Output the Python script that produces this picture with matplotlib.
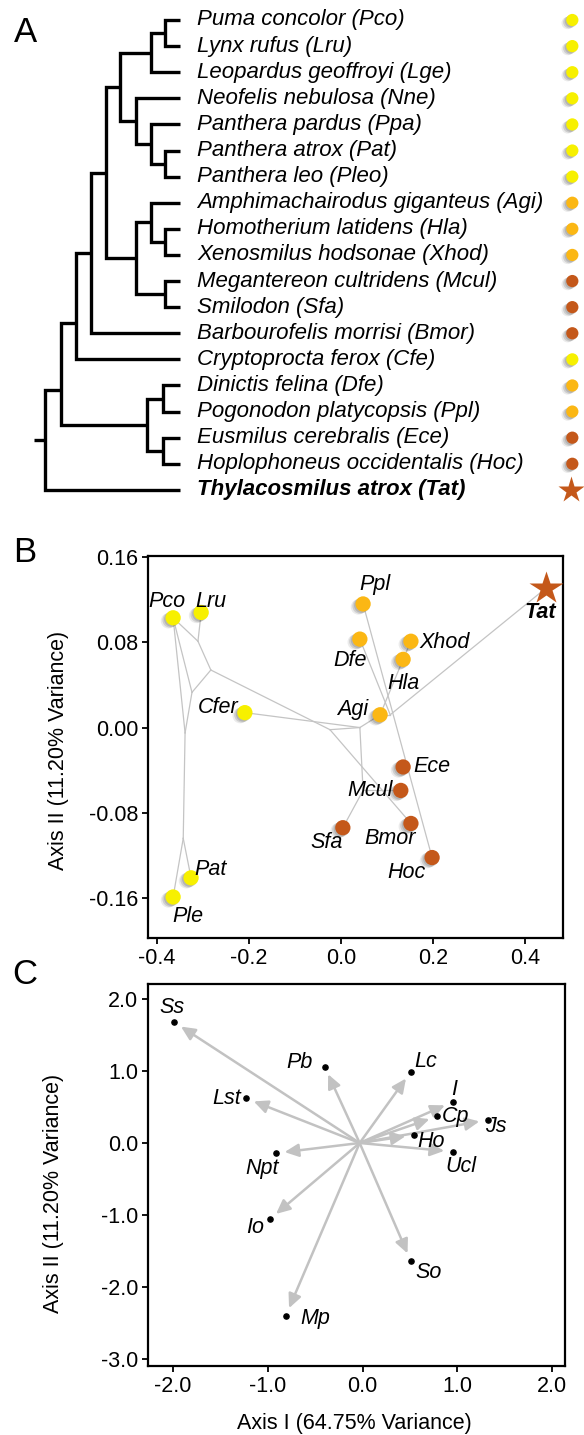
import matplotlib
matplotlib.use("Agg")
import matplotlib.pyplot as plt
import matplotlib.patheffects as pe
from matplotlib.transforms import blended_transform_factory

plt.rcParams['font.family'] = ['Liberation Sans', 'DejaVu Sans']
plt.rcParams['axes.unicode_minus'] = False

# ---------------- data ----------------
# panel A: tips in plotting order
tip_codes = ["Pco", "Lru", "Lge", "Nne", "Ppa", "Pat", "Pleo", "Agi", "Hla", "Xhod",
             "Mcul", "Sfa", "Bmor", "Cfe", "Dfe", "Ppl", "Ece", "Hoc", "Tat"]
tip_names = ["Puma concolor (Pco)", "Lynx rufus (Lru)", "Leopardus geoffroyi (Lge)",
             "Neofelis nebulosa (Nne)", "Panthera pardus (Ppa)", "Panthera atrox (Pat)",
             "Panthera leo (Pleo)", "Amphimachairodus giganteus (Agi)",
             "Homotherium latidens (Hla)", "Xenosmilus hodsonae (Xhod)",
             "Megantereon cultridens (Mcul)", "Smilodon (Sfa)",
             "Barbourofelis morrisi (Bmor)", "Cryptoprocta ferox (Cfe)",
             "Dinictis felina (Dfe)", "Pogonodon platycopsis (Ppl)",
             "Eusmilus cerebralis (Ece)", "Hoplophoneus occidentalis (Hoc)",
             "Thylacosmilus atrox (Tat)"]
tip_group = ["y", "y", "y", "y", "y", "y", "y", "o", "o", "o",
             "b", "b", "b", "y", "o", "o", "b", "b", "star"]

# tree: (node depth, [children], position of stem between children)
tree = (0.0, [
    (0.119, [
        (0.23, [
            (0.34, [
                (0.452, [
                    (0.556, [
                        (0.783, [(0.889, ["Pco", "Lru"], 0.5), "Lge"], 0.5),
                        (0.674, ["Nne", (0.783, ["Ppa", (0.889, ["Pat", "Pleo"], 0.5)], 0.5)], 0.5),
                    ], 0.5),
                    (0.674, [
                        (0.783, ["Agi", (0.889, ["Hla", "Xhod"], 0.5)], 0.5),
                        (0.889, ["Mcul", "Sfa"], 0.5),
                    ], 0.5),
                ], 0.5),
                "Bmor",
            ], 0.5),
            "Cfe",
        ], 0.66),
        (0.756, [(0.874, ["Dfe", "Ppl"], 0.5), (0.874, ["Ece", "Hoc"], 0.5)], 0.5),
    ], 0.66),
    "Tat",
], 0.5)
root_stem = -0.081

# panel B: PCA scores
b_codes = ["Pco", "Lru", "Cfer", "Pat", "Ple", "Ppl", "Dfe", "Xhod", "Hla", "Agi",
           "Ece", "Mcul", "Bmor", "Sfa", "Hoc", "Tat"]
b_x = [-0.365, -0.304, -0.209, -0.326, -0.365, 0.048, 0.041, 0.152, 0.135, 0.085,
       0.135, 0.130, 0.152, 0.004, 0.198, 0.446]
b_y = [0.103, 0.108, 0.014, -0.141, -0.159, 0.116, 0.083, 0.081, 0.064, 0.012,
       -0.037, -0.059, -0.090, -0.094, -0.122, 0.131]
b_group = ["y", "y", "y", "y", "y", "o", "o", "o", "o", "o",
           "b", "b", "b", "b", "b", "star"]
# network internal nodes
net_nodes = {"J1": (-0.311, 0.081), "A": (-0.283, 0.054), "B": (-0.324, 0.033),
             "C": (-0.339, -0.005), "D": (-0.343, -0.104), "M1": (-0.024, -0.002),
             "M2": (0.041, 0.0), "K2": (0.048, -0.059), "T1": (0.107, 0.012)}
net_edges = [("Pco", "J1"), ("Lru", "J1"), ("J1", "A"), ("A", "B"), ("Pco", "B"),
             ("Pco", "C"), ("B", "C"), ("C", "D"), ("D", "Pat"), ("D", "Ple"),
             ("A", "M1"), ("Cfer", "M2"), ("M1", "M2"), ("M2", "Agi"), ("M1", "Bmor"),
             ("M2", "K2"), ("K2", "Sfa"), ("K2", "Mcul"), ("Ppl", "Hoc"), ("Dfe", "T1"),
             ("Hla", "Agi"), ("Xhod", "Hla"), ("Agi", "T1"), ("T1", "Tat")]

# panel C: loadings
c_codes = ["Ss", "Lst", "Npt", "Io", "Mp", "Pb", "Lc", "I", "Cp", "Js", "Ho", "Ucl", "So"]
c_x = [-1.99, -1.23, -0.91, -0.98, -0.81, -0.40, 0.51, 0.95, 0.79, 1.32, 0.54, 0.95, 0.51]
c_y = [1.68, 0.62, -0.14, -1.06, -2.40, 1.06, 0.99, 0.57, 0.37, 0.32, 0.11, -0.12, -1.64]
c_origin = (-0.03, 0.0)

colors = {"y": "#f7f000", "o": "#fbb714", "b": "#c4581a", "star": "#c4581a"}

# ---------------- figure ----------------
W, H = 584, 1435
fig = plt.figure(figsize=(W / 100, H / 100), dpi=100)


def px_axes(left, top, right, bottom):
    return fig.add_axes([left / W, 1 - bottom / H, (right - left) / W, (bottom - top) / H])


shadow = [pe.SimplePatchShadow(offset=(-1, -1), shadow_rgbFace="k", alpha=0.12),
          pe.SimplePatchShadow(offset=(-2.2, -1.6), shadow_rgbFace="k", alpha=0.12),
          pe.SimplePatchShadow(offset=(-3.4, -2.2), shadow_rgbFace="k", alpha=0.08),
          pe.Normal()]

# ---------------- panel A ----------------
axA = px_axes(0, 0, W, 540)
axA.set_xlim(-45 / 135, (W - 45) / 135)
axA.set_ylim(19.92, -0.766)
axA.axis("off")
tip_index = {c: i for i, c in enumerate(tip_codes)}
tree_kw = dict(color="black", lw=2.4, solid_joinstyle="miter", solid_capstyle="butt")


def draw(node):
    if isinstance(node, str):
        return tip_index[node], 1.0
    depth, kids, frac = node
    (y1, d1), (y2, d2) = draw(kids[0]), draw(kids[1])
    axA.plot([d1, depth, depth, d2], [y1, y1, y2, y2], **tree_kw)
    return y1 + frac * (y2 - y1), depth


ry, rd = draw(tree)
axA.plot([root_stem, rd], [ry, ry], **tree_kw)

dot_tr = blended_transform_factory(axA.transAxes, axA.transData)
for i, (name, g) in enumerate(zip(tip_names, tip_group)):
    axA.annotate(name, (1.0, i), xytext=(17, 0), textcoords="offset pixels",
                 ha="left", va="center", fontsize=16, style="italic",
                 fontweight="bold" if g == "star" else "normal")
    if g == "star":
        axA.plot([0.977], [i], marker="*", ms=20, color=colors[g], mec="none",
                 transform=dot_tr, clip_on=False)
    else:
        axA.plot([0.98], [i], marker="o", ms=8.8, color=colors[g], mec="none",
                 transform=dot_tr, clip_on=False, path_effects=shadow)


def style_axes(ax):
    for s in ax.spines.values():
        s.set_linewidth(1.6)
    ax.tick_params(direction="out", length=4, width=1.3, labelsize=15.5, pad=3)


# ---------------- panel B ----------------
axB = px_axes(148, 556, 563, 938)
axB.set_xlim(-0.4196, 0.4826)
axB.set_ylim(-0.1975, 0.161)
style_axes(axB)
axB.set_xticks([-0.4, -0.2, 0.0, 0.2, 0.4])
axB.set_xticklabels(["-0.4", "-0.2", "0.0", "0.2", "0.4"])
axB.set_yticks([-0.16, -0.08, 0.0, 0.08, 0.16])
axB.set_yticklabels(["-0.16", "-0.08", "0.00", "0.08", "0.16"])
axB.set_ylabel("Axis II (11.20% Variance)", fontsize=15.5)
axB.yaxis.set_label_coords(-0.19, 0.49)

pos = {c: (x, y) for c, x, y in zip(b_codes, b_x, b_y)}
pos.update(net_nodes)
for a, b in net_edges:
    axB.plot([pos[a][0], pos[b][0]], [pos[a][1], pos[b][1]], color="#c4c4c4", lw=0.9, zorder=1)

for c, x, y, g in zip(b_codes, b_x, b_y, b_group):
    if g == "star":
        axB.plot([x], [y], marker="*", ms=25, color=colors[g], mec="none", zorder=3)
    else:
        axB.plot([x], [y], marker="o", ms=11, color=colors[g], mec="none", zorder=3,
                 path_effects=shadow)

b_label_pos = {"Pco": (-6, 16, "center"), "Lru": (10, 11, "center"), "Cfer": (-6, 5, "right"),
               "Pat": (19, 8, "center"), "Ple": (15, -20, "center"), "Ppl": (12, 19, "center"),
               "Dfe": (-10, -21, "center"), "Xhod": (8, -1, "left"), "Hla": (0, -24, "center"),
               "Agi": (-12, 5, "right"), "Ece": (10, 0, "left"), "Mcul": (-8, 0, "right"),
               "Bmor": (-21, -15, "center"), "Sfa": (-16, -15, "center"),
               "Hoc": (-26, -15, "center"), "Tat": (-6, -25, "center")}
for c, x, y in zip(b_codes, b_x, b_y):
    dx, dy, ha = b_label_pos[c]
    axB.annotate(c, (x, y), xytext=(dx, dy), textcoords="offset pixels", ha=ha, va="center",
                 fontsize=15.5, style="italic", zorder=4,
                 fontweight="bold" if c == "Tat" else "normal")

# ---------------- panel C ----------------
axC = px_axes(148, 984, 565, 1366)
axC.set_xlim(-2.264, 2.137)
axC.set_ylim(-3.097, 2.208)
style_axes(axC)
axC.set_xticks([-2, -1, 0, 1, 2])
axC.set_xticklabels(["-2.0", "-1.0", "0.0", "1.0", "2.0"])
axC.set_yticks([2, 1, 0, -1, -2, -3])
axC.set_yticklabels(["2.0", "1.0", "0.0", "-1.0", "-2.0", "-3.0"])
axC.set_ylabel("Axis II (11.20% Variance)", fontsize=15.5)
axC.yaxis.set_label_coords(-0.201, 0.453)
axC.set_xlabel("Axis I (64.75% Variance)", fontsize=15.5)
axC.xaxis.set_label_coords(0.496, -0.122)

for x, y in zip(c_x, c_y):
    axC.annotate("", xy=(x, y), xytext=c_origin,
                 arrowprops=dict(arrowstyle="-|>,head_length=0.6,head_width=0.28",
                                 mutation_scale=14, color="#c2c2c2", lw=1.8,
                                 shrinkA=0, shrinkB=6))
axC.scatter(c_x, c_y, s=14, color="black", zorder=3)

c_label_pos = {"Ss": (-2, 15, "center"), "Lst": (-5, 0, "right"), "Npt": (-14, -15, "center"),
               "Io": (-6, -8, "right"), "Mp": (15, -3, "left"), "Pb": (-12, 4, "right"),
               "Lc": (4, 10, "left"), "I": (2, 12, "center"), "Cp": (4, 0, "left"),
               "Js": (-3, -7, "left"), "Ho": (4, -6, "left"), "Ucl": (8, -15, "center"),
               "So": (5, -11, "left")}
for c, x, y in zip(c_codes, c_x, c_y):
    dx, dy, ha = c_label_pos[c]
    axC.annotate(c, (x, y), xytext=(dx, dy), textcoords="offset pixels", ha=ha, va="center",
                 fontsize=15.5, style="italic")

# panel letters
for letter, yp in [("A", 33), ("B", 552), ("C", 974)]:
    fig.text(25 / W, 1 - yp / H, letter, fontsize=25, ha="center", va="center")

fig.savefig("out.png", dpi=100)
